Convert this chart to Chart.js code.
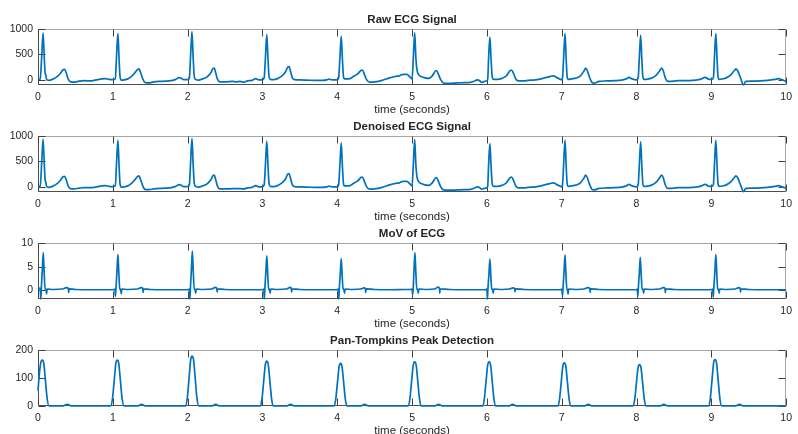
<!DOCTYPE html>
<html>
<head>
<meta charset="utf-8">
<title>ECG Processing</title>
<script src="https://cdn.jsdelivr.net/npm/chart.js@4.4.1/dist/chart.umd.min.js"></script>
<style>
    html, body { margin: 0; padding: 0; background: #fff; overflow: hidden; }
    body { width: 798px; height: 434px; position: relative; }
    canvas { position: absolute; left: 0; }
</style>
</head>
<body>
<canvas id="rawChart" width="798" height="117" style="top:0px"></canvas>
<canvas id="denoisedChart" width="798" height="117" style="top:107px"></canvas>
<canvas id="movChart" width="798" height="117" style="top:214px"></canvas>
<canvas id="ptChart" width="798" height="117" style="top:321px"></canvas>
<script>
const timeTicks = [0, 1, 2, 3, 4, 5, 6, 7, 8, 9, 10];
const ecgTicks = [0, 500, 1000];
const movTicks = [0, 5, 10];
const ptTicks = [0, 100, 200];

// [time (s), amplitude]
const rawEcg = [
    [0.00, 10], [0.03, 15], [0.05, 480], [0.068, 925], [0.084, 430], [0.096, 130], [0.104, 100], [0.115, 10],
    [0.14, -10], [0.20, 15], [0.26, 70], [0.30, 130], [0.335, 200], [0.355, 205], [0.375, 150], [0.40, 30], [0.43, -35],
    [0.48, -45], [0.55, -25], [0.62, -15], [0.70, -20], [0.75, -10], [0.80, 5], [0.85, 20], [0.90, 25], [0.95, 10], [1.00, 5],
    [1.033, 20], [1.05, 470], [1.068, 915], [1.084, 400], [1.097, 60], [1.115, -5], [1.15, 0], [1.20, 20], [1.25, 70],
    [1.29, 130], [1.33, 200], [1.35, 215], [1.37, 150], [1.40, 20], [1.43, -50], [1.48, -60], [1.55, -40], [1.62, -30],
    [1.70, -25], [1.78, -15], [1.84, 10], [1.885, 45], [1.91, 35], [1.95, 5], [2.00, 5],
    [2.023, 40], [2.04, 490], [2.058, 950], [2.074, 440], [2.088, 80], [2.105, 10], [2.15, -5], [2.20, 20], [2.26, 60],
    [2.31, 140], [2.34, 225], [2.355, 230], [2.375, 140], [2.40, 10], [2.43, -40], [2.50, -40], [2.60, -30], [2.65, -40],
    [2.70, -30], [2.75, -45], [2.80, -20], [2.86, -10], [2.91, 25], [2.95, 0], [3.00, 0],
    [3.023, 40], [3.04, 440], [3.058, 895], [3.074, 420], [3.088, 70], [3.105, 10], [3.15, 5], [3.20, 25], [3.26, 80],
    [3.31, 160], [3.34, 255], [3.355, 260], [3.375, 170], [3.40, 40], [3.43, 5], [3.50, 0], [3.60, -5], [3.70, -10],
    [3.80, -10], [3.86, 0], [3.89, 15], [3.93, 0], [4.00, 0],
    [4.018, 40], [4.035, 420], [4.053, 860], [4.069, 400], [4.082, 80], [4.095, 20], [4.15, 20], [4.22, 70], [4.28, 130],
    [4.32, 190], [4.335, 195], [4.36, 120], [4.39, 10], [4.43, -45], [4.50, -40], [4.60, -10], [4.70, 40], [4.78, 70],
    [4.83, 80], [4.88, 110], [4.93, 110], [4.97, 60], [5.00, 20],
    [5.017, 450], [5.035, 930], [5.05, 450], [5.065, 200], [5.09, 100], [5.13, 60], [5.17, 40], [5.22, 30],
    [5.27, 80], [5.31, 170], [5.325, 185], [5.35, 120], [5.38, 10], [5.42, -60], [5.50, -70], [5.60, -60], [5.70, -55],
    [5.78, -50], [5.83, -25], [5.87, 0], [5.90, -10], [5.93, -50], [5.97, -30], [6.01, 0],
    [6.022, 400], [6.04, 840], [6.056, 400], [6.07, 80], [6.09, 10], [6.14, 10], [6.20, 30], [6.26, 80],
    [6.31, 180], [6.33, 195], [6.355, 130], [6.39, 10], [6.43, -20], [6.50, -20], [6.55, -10], [6.65, 0], [6.75, 30],
    [6.85, 70], [6.89, 80], [6.94, 40], [6.97, 20], [7.00, 0],
    [7.012, 60], [7.026, 450], [7.044, 915], [7.06, 400], [7.073, 60], [7.09, 10], [7.13, 20], [7.19, 35], [7.25, 80],
    [7.30, 180], [7.32, 230], [7.34, 190], [7.37, 60], [7.40, -40], [7.43, -65], [7.50, -30], [7.60, -20], [7.70, -15],
    [7.80, -5], [7.86, 20], [7.90, 50], [7.94, 20], [8.00, 0],
    [8.022, 40], [8.037, 420], [8.055, 880], [8.071, 400], [8.084, 70], [8.10, 10], [8.15, 15], [8.20, 35], [8.26, 90],
    [8.31, 180], [8.335, 230], [8.355, 190], [8.38, 60], [8.41, -25], [8.45, -30], [8.55, -15], [8.65, -15], [8.75, -10],
    [8.85, 10], [8.92, 50], [8.96, 15], [9.00, 10],
    [9.027, 40], [9.042, 450], [9.06, 915], [9.076, 420], [9.089, 70], [9.105, 10], [9.15, 20], [9.20, 40], [9.26, 100],
    [9.31, 190], [9.33, 215], [9.355, 170], [9.39, 40], [9.43, -100], [9.46, -30], [9.55, -25], [9.65, -20], [9.75, -10],
    [9.85, 10], [9.90, 25], [9.94, 5], [9.97, -10], [10.00, -30]
];

const denoisedEcg = [
    [0.00, 10], [0.03, 15], [0.05, 500], [0.068, 940], [0.084, 440], [0.096, 130], [0.104, 95], [0.115, 10],
    [0.14, -10], [0.20, 15], [0.26, 70], [0.30, 130], [0.335, 200], [0.355, 205], [0.375, 150], [0.40, 30], [0.43, -35],
    [0.48, -40], [0.55, -25], [0.62, -15], [0.70, -15], [0.75, -10], [0.80, 5], [0.85, 20], [0.90, 25], [0.95, 10], [1.00, 5],
    [1.033, 20], [1.05, 470], [1.068, 920], [1.084, 400], [1.097, 60], [1.115, -5], [1.15, 0], [1.20, 20], [1.25, 70],
    [1.29, 130], [1.33, 200], [1.35, 215], [1.37, 150], [1.40, 20], [1.43, -50], [1.48, -55], [1.55, -40], [1.62, -30],
    [1.70, -25], [1.78, -15], [1.84, 10], [1.885, 45], [1.91, 35], [1.95, 5], [2.00, 5],
    [2.023, 40], [2.04, 490], [2.058, 955], [2.074, 440], [2.088, 80], [2.105, 10], [2.15, -5], [2.20, 20], [2.26, 60],
    [2.31, 140], [2.34, 225], [2.355, 230], [2.375, 140], [2.40, 10], [2.43, -40], [2.50, -40], [2.60, -35], [2.65, -35],
    [2.70, -35], [2.75, -40], [2.80, -20], [2.86, -10], [2.91, 25], [2.95, 0], [3.00, 0],
    [3.023, 40], [3.04, 440], [3.058, 900], [3.074, 420], [3.088, 70], [3.105, 10], [3.15, 5], [3.20, 25], [3.26, 80],
    [3.31, 160], [3.34, 255], [3.355, 260], [3.375, 170], [3.40, 40], [3.43, 5], [3.50, 0], [3.60, -5], [3.70, -10],
    [3.80, -10], [3.86, 0], [3.89, 15], [3.93, 0], [4.00, 0],
    [4.018, 40], [4.035, 420], [4.053, 870], [4.069, 400], [4.082, 80], [4.095, 20], [4.15, 20], [4.22, 70], [4.28, 130],
    [4.32, 190], [4.335, 195], [4.36, 120], [4.39, 10], [4.43, -45], [4.50, -40], [4.60, -10], [4.70, 40], [4.78, 70],
    [4.83, 80], [4.88, 110], [4.93, 110], [4.97, 60], [5.00, 20],
    [5.017, 450], [5.035, 935], [5.05, 450], [5.065, 200], [5.09, 100], [5.13, 60], [5.17, 40], [5.22, 30],
    [5.27, 80], [5.31, 170], [5.325, 185], [5.35, 120], [5.38, 10], [5.42, -60], [5.50, -65], [5.60, -60], [5.70, -55],
    [5.78, -50], [5.83, -25], [5.87, 0], [5.90, -10], [5.93, -45], [5.97, -30], [6.01, 0],
    [6.022, 400], [6.04, 850], [6.056, 400], [6.07, 80], [6.09, 10], [6.14, 10], [6.20, 30], [6.26, 80],
    [6.31, 180], [6.33, 195], [6.355, 130], [6.39, 10], [6.43, -20], [6.50, -20], [6.55, -10], [6.65, 0], [6.75, 30],
    [6.85, 70], [6.89, 80], [6.94, 40], [6.97, 20], [7.00, 0],
    [7.012, 60], [7.026, 450], [7.044, 920], [7.06, 400], [7.073, 60], [7.09, 10], [7.13, 20], [7.19, 35], [7.25, 80],
    [7.30, 180], [7.32, 230], [7.34, 190], [7.37, 60], [7.40, -40], [7.43, -60], [7.50, -30], [7.60, -20], [7.70, -15],
    [7.80, -5], [7.86, 20], [7.90, 50], [7.94, 20], [8.00, 0],
    [8.022, 40], [8.037, 420], [8.055, 890], [8.071, 400], [8.084, 70], [8.10, 10], [8.15, 15], [8.20, 35], [8.26, 90],
    [8.31, 180], [8.335, 230], [8.355, 190], [8.38, 60], [8.41, -25], [8.45, -30], [8.55, -15], [8.65, -15], [8.75, -10],
    [8.85, 10], [8.92, 50], [8.96, 15], [9.00, 10],
    [9.027, 40], [9.042, 450], [9.06, 920], [9.076, 420], [9.089, 70], [9.105, 10], [9.15, 20], [9.20, 40], [9.26, 100],
    [9.31, 190], [9.33, 215], [9.355, 170], [9.39, 40], [9.43, -95], [9.46, -30], [9.55, -25], [9.65, -20], [9.75, -10],
    [9.85, 10], [9.90, 25], [9.94, 5], [9.97, -10], [10.00, -25]
];

const movEcg = [
    [0.00, 0.3], [0.02, 0.5], [0.03, 0.3], [0.037, -1.8], [0.044, 0.4], [0.058, 4.4], [0.07, 8.0], [0.082, 4.0], [0.095, 0.2],
    [0.105, 0.3], [0.115, -0.7], [0.122, 0.3], [0.20, 0.2], [0.33, 0.3], [0.38, 0.6], [0.405, 0.45], [0.41, -0.4], [0.415, 0.35],
    [0.50, 0.2], [0.70, 0.15], [0.90, 0.15], [1.02, 0.2],
    [1.028, 0.3], [1.035, -1.2], [1.042, 0.4], [1.056, 4.2], [1.068, 7.6], [1.08, 3.8], [1.093, 0.2], [1.103, 0.3], [1.113, -0.7],
    [1.12, 0.3], [1.20, 0.2], [1.33, 0.3], [1.38, 0.6], [1.40, 0.45], [1.405, -0.4], [1.41, 0.35], [1.50, 0.2], [1.70, 0.15],
    [1.90, 0.15], [2.015, 0.2],
    [2.023, 0.3], [2.03, -1.8], [2.037, 0.4], [2.051, 4.6], [2.063, 8.3], [2.075, 4.1], [2.088, 0.2], [2.098, 0.3], [2.108, -0.6],
    [2.115, 0.3], [2.20, 0.2], [2.32, 0.3], [2.37, 0.65], [2.39, 0.45], [2.395, -0.35], [2.40, 0.35], [2.50, 0.2], [2.70, 0.15],
    [2.90, 0.15], [3.01, 0.2],
    [3.018, 0.3], [3.025, -1.8], [3.032, 0.4], [3.046, 4.0], [3.058, 7.3], [3.07, 3.6], [3.083, 0.2], [3.093, 0.3], [3.103, -0.6],
    [3.11, 0.3], [3.20, 0.2], [3.32, 0.3], [3.37, 0.65], [3.385, 0.45], [3.39, -0.35], [3.395, 0.35], [3.50, 0.2], [3.70, 0.15],
    [3.90, 0.15], [4.005, 0.2],
    [4.013, 0.3], [4.02, -1.8], [4.027, 0.4], [4.041, 3.7], [4.053, 6.7], [4.065, 3.3], [4.078, 0.2], [4.088, 0.3], [4.098, -0.6],
    [4.105, 0.3], [4.20, 0.2], [4.31, 0.3], [4.36, 0.55], [4.375, 0.4], [4.38, -0.4], [4.385, 0.35], [4.50, 0.2], [4.70, 0.15],
    [4.90, 0.2], [4.995, 0.25],
    [5.00, 0.3], [5.008, -0.9], [5.015, 0.4], [5.026, 4.4], [5.038, 8.0], [5.05, 4.0], [5.063, 0.2], [5.073, 0.3], [5.083, -0.6],
    [5.09, 0.3], [5.20, 0.2], [5.30, 0.3], [5.35, 0.7], [5.365, 0.45], [5.37, -0.6], [5.375, 0.35], [5.50, 0.2], [5.70, 0.15],
    [5.90, 0.15], [5.993, 0.2],
    [6.00, 0.3], [6.007, -1.8], [6.014, 0.4], [6.028, 3.6], [6.04, 6.6], [6.052, 3.3], [6.065, 0.2], [6.075, 0.3], [6.085, -0.6],
    [6.092, 0.3], [6.20, 0.2], [6.30, 0.3], [6.35, 0.55], [6.37, 0.4], [6.375, -0.3], [6.38, 0.35], [6.50, 0.2], [6.70, 0.15],
    [6.90, 0.15], [6.995, 0.2],
    [7.002, 0.3], [7.01, -1.1], [7.017, 0.4], [7.032, 4.1], [7.044, 7.5], [7.056, 3.7], [7.069, 0.2], [7.075, 0.3], [7.085, -0.8],
    [7.092, 0.3], [7.20, 0.2], [7.30, 0.3], [7.35, 0.6], [7.375, 0.45], [7.38, -0.4], [7.385, 0.35], [7.50, 0.2], [7.70, 0.15],
    [7.90, 0.15], [8.005, 0.2],
    [8.01, 0.3], [8.017, -1.2], [8.024, 0.4], [8.038, 3.9], [8.05, 7.0], [8.062, 3.5], [8.075, 0.2], [8.085, 0.3], [8.095, -0.6],
    [8.102, 0.3], [8.20, 0.2], [8.31, 0.3], [8.36, 0.6], [8.38, 0.45], [8.385, -0.45], [8.39, 0.35], [8.50, 0.2], [8.70, 0.15],
    [8.90, 0.15], [9.01, 0.2],
    [9.017, 0.3], [9.025, -1.4], [9.032, 0.4], [9.048, 4.2], [9.06, 7.6], [9.072, 3.8], [9.085, 0.2], [9.095, 0.3], [9.105, -0.6],
    [9.112, 0.3], [9.20, 0.2], [9.32, 0.3], [9.37, 0.6], [9.385, 0.45], [9.39, -0.35], [9.395, 0.35], [9.50, 0.2], [9.70, 0.15],
    [9.90, 0.15], [10.00, 0.15]
];

const panTompkins = [
    [0.00, 55], [0.02, 120], [0.04, 158], [0.058, 164], [0.078, 151], [0.098, 95], [0.123, 25], [0.148, 0],
    [0.33, 0], [0.36, 3], [0.39, 6], [0.42, 3], [0.45, 0], [0.97, 0],
    [0.995, 25], [1.02, 95], [1.04, 151], [1.06, 164], [1.08, 151], [1.10, 95], [1.125, 25], [1.15, 0],
    [1.33, 0], [1.36, 3], [1.385, 6], [1.41, 3], [1.44, 0], [1.97, 0],
    [1.995, 27], [2.02, 103], [2.04, 164], [2.06, 178], [2.08, 164], [2.10, 103], [2.125, 27], [2.15, 0],
    [2.32, 0], [2.35, 3], [2.375, 6], [2.40, 3], [2.43, 0], [2.968, 0],
    [2.993, 24], [3.018, 93], [3.038, 147], [3.058, 160], [3.078, 147], [3.098, 93], [3.123, 24], [3.148, 0],
    [3.32, 0], [3.35, 3], [3.375, 6], [3.40, 3], [3.43, 0], [3.954, 0],
    [3.979, 23], [4.004, 88], [4.024, 140], [4.044, 152], [4.064, 140], [4.084, 88], [4.109, 23], [4.134, 0],
    [4.31, 0], [4.34, 3], [4.365, 6], [4.39, 3], [4.42, 0], [4.945, 0],
    [4.97, 24], [4.995, 92], [5.015, 145], [5.035, 158], [5.055, 145], [5.075, 92], [5.10, 24], [5.125, 0],
    [5.30, 0], [5.33, 3], [5.355, 6], [5.38, 3], [5.41, 0], [5.94, 0],
    [5.965, 24], [5.99, 92], [6.01, 145], [6.03, 158], [6.05, 145], [6.07, 92], [6.095, 24], [6.12, 0],
    [6.29, 0], [6.32, 3], [6.345, 6], [6.37, 3], [6.40, 0], [6.945, 0],
    [6.97, 23], [6.995, 89], [7.015, 142], [7.035, 154], [7.055, 142], [7.075, 89], [7.10, 23], [7.125, 0],
    [7.30, 0], [7.33, 3], [7.355, 6], [7.38, 3], [7.41, 0], [7.95, 0],
    [7.975, 22], [8.00, 86], [8.02, 136], [8.04, 148], [8.06, 136], [8.08, 86], [8.105, 22], [8.13, 0],
    [8.31, 0], [8.34, 3], [8.365, 6], [8.39, 3], [8.42, 0], [8.96, 0],
    [8.985, 25], [9.01, 96], [9.03, 153], [9.05, 166], [9.07, 153], [9.09, 96], [9.115, 25], [9.14, 0],
    [9.32, 0], [9.35, 3], [9.375, 6], [9.40, 3], [9.43, 0], [10.00, 0]
];

const fontFamily = "'Liberation Sans', Arial, Helvetica, sans-serif";
const textColor = '#262626';
const lineColor = '#0072BD';

// Boxed axes with inward ticks on every side, and a title centred over the plot area
const matlabAxes = {
    id: 'matlabAxes',
    beforeDatasetsDraw(chart) {
        const { ctx, chartArea: a, scales } = chart;
        const l = Math.round(a.left) + 0.5;
        const r = Math.round(a.right) - 0.5;
        const t = Math.round(a.top) + 0.5;
        const b = Math.round(a.bottom) - 0.5;
        const tickLen = 7;

        ctx.save();
        ctx.lineWidth = 1;

        ctx.strokeStyle = '#a6a6a6';
        ctx.beginPath();
        ctx.moveTo(l, t); ctx.lineTo(r, t); ctx.lineTo(r, b);
        ctx.stroke();

        ctx.strokeStyle = '#4d4d4d';
        ctx.beginPath();
        ctx.moveTo(l, t); ctx.lineTo(l, b); ctx.lineTo(r, b);
        ctx.stroke();

        ctx.strokeStyle = '#404040';
        ctx.beginPath();
        scales.x.ticks.forEach(tick => {
            const x = Math.round(scales.x.getPixelForValue(tick.value)) + 0.5;
            ctx.moveTo(x, b); ctx.lineTo(x, b - tickLen);
            ctx.moveTo(x, t); ctx.lineTo(x, t + tickLen);
        });
        scales.y.ticks.forEach(tick => {
            const y = Math.round(scales.y.getPixelForValue(tick.value)) + 0.5;
            ctx.moveTo(l, y); ctx.lineTo(l + tickLen, y);
            ctx.moveTo(r, y); ctx.lineTo(r - tickLen, y);
        });
        ctx.stroke();
        ctx.restore();
    },
    afterDraw(chart, args, opts) {
        const { ctx, chartArea: a } = chart;
        ctx.save();
        ctx.fillStyle = textColor;
        ctx.font = `bold 11.5px ${fontFamily}`;
        ctx.textAlign = 'center';
        ctx.textBaseline = 'middle';
        ctx.fillText(opts.text, (a.left + a.right) / 2, a.top - 9.5);
        ctx.restore();
    }
};

function makeChart(canvasId, series, yMin, yMax, yTicks, title) {
    return new Chart(document.getElementById(canvasId).getContext('2d'), {
        type: 'line',
        data: {
            datasets: [{
                data: series.map(([x, y]) => ({ x, y })),
                borderColor: lineColor,
                borderWidth: 1.7,
                pointRadius: 0,
                cubicInterpolationMode: 'monotone',
                fill: false,
                clip: 2
            }]
        },
        options: {
            responsive: false,
            animation: false,
            events: [],
            layout: {
                padding: { top: 29, right: 8, bottom: 0, left: 0 }
            },
            plugins: {
                legend: { display: false },
                tooltip: { enabled: false },
                matlabAxes: { text: title }
            },
            scales: {
                x: {
                    type: 'linear',
                    min: 0,
                    max: 10,
                    afterBuildTicks: scale => {
                        scale.ticks = timeTicks.map(v => ({ value: v }));
                    },
                    afterFit: scale => {
                        scale.height = 32;
                    },
                    grid: { display: false, drawTicks: false },
                    border: { display: false },
                    ticks: {
                        color: textColor,
                        font: { family: fontFamily, size: 10.5 },
                        padding: 6,
                        maxRotation: 0,
                        autoSkip: false,
                        callback: value => String(value)
                    },
                    title: {
                        display: true,
                        text: 'time (seconds)',
                        color: textColor,
                        font: { family: fontFamily, size: 11.5 },
                        padding: 0
                    }
                },
                y: {
                    min: yMin,
                    max: yMax,
                    afterBuildTicks: scale => {
                        scale.ticks = yTicks.map(v => ({ value: v }));
                    },
                    afterFit: scale => {
                        scale.width = 38;
                    },
                    grid: { display: false, drawTicks: false },
                    border: { display: false },
                    ticks: {
                        color: textColor,
                        font: { family: fontFamily, size: 10.5 },
                        padding: 5,
                        callback: value => String(value)
                    }
                }
            }
        },
        plugins: [matlabAxes]
    });
}

document.addEventListener('DOMContentLoaded', () => {
    if (typeof Chart === 'undefined') {
        console.error('Chart.js not loaded!');
        return;
    }
    makeChart('rawChart', rawEcg, -100, 1000, ecgTicks, 'Raw ECG Signal');
    makeChart('denoisedChart', denoisedEcg, -100, 1000, ecgTicks, 'Denoised ECG Signal');
    makeChart('movChart', movEcg, -1.8, 10, movTicks, 'MoV of ECG');
    makeChart('ptChart', panTompkins, 0, 200, ptTicks, 'Pan-Tompkins Peak Detection');
});
</script>
</body>
</html>
